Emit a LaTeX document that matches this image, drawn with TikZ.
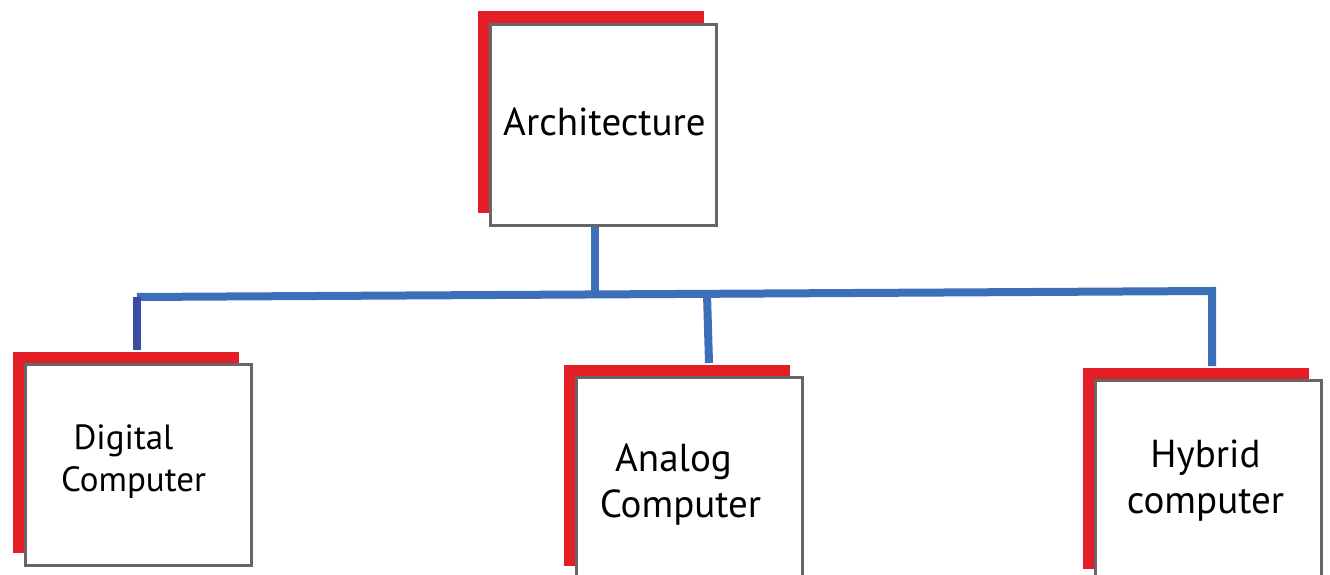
\documentclass[tikz,border=0pt]{standalone}
\usepackage{fontspec}
\setmainfont{PT Sans}
\usetikzlibrary{shadows}

\definecolor{boxgray}{HTML}{666666}
\definecolor{shadowred}{HTML}{E41E26}
\definecolor{linkblue}{HTML}{3B70B8}
\definecolor{linkdark}{HTML}{3C4CA0}

\tikzset{
  unitbox/.style={
    draw=boxgray, line width=3pt, fill=white,
    minimum width=226pt, minimum height=201pt,
    inner sep=0pt,
    general shadow={fill=shadowred, draw=none,
      shadow xshift=-13pt, shadow yshift=13pt}
  },
  caption/.style={align=center, inner sep=0pt},
  link/.style={draw=linkblue, line width=8pt, line join=miter},
  bigtext/.style={font=\fontsize{39}{46}\selectfont},
  smalltext/.style={font=\fontsize{35}{42}\selectfont}
}

\begin{document}
\begin{tikzpicture}[x=1pt, y=-1pt]
  \clip (0,0) rectangle (1330,575);
  \useasboundingbox (0,0) rectangle (1330,575);

  % boxes
  \node[unitbox] (arch) at (603.5,125) {};
  \node[unitbox] (dig) at (138.5,465) {};
  \node[unitbox] (ana) at (689.5,478) {};
  \node[unitbox] (hyb) at (1208.5,481) {};

  % captions
  \node[caption, bigtext] (archT) at ([shift={(1,-3)}]arch.center) {Architecture};
  \node[caption, smalltext] (digT) at ([shift={(-5,-3)}]dig.center) {Digital\hspace*{20pt}\\Computer};
  \node[caption, bigtext] (anaT) at ([shift={(-9,7)}]ana.center) {Analog\hspace*{14pt}\\Computer};
  \node[caption, bigtext] (hybT) at ([shift={(-3,0)}]hyb.center) {Hybrid\\computer};

  % bus points
  \coordinate (hub) at (595,294);
  \coordinate (busL) at (137,297);
  \coordinate (busR) at (1212,291);
  \coordinate (busA) at (707,294);

  % connectors
  \draw[link] (hub |- arch.south) -- (hub);
  \draw[link] ([yshift=13pt]hyb.north -| busR) -- (busR) -- (busL);
  \draw[link, draw=linkdark] (busL) -- ([yshift=13pt]dig.north -| busL);
  \draw[link] (busA) -- ([yshift=13pt, xshift=2pt]ana.north -| busA);
\end{tikzpicture}
\end{document}
